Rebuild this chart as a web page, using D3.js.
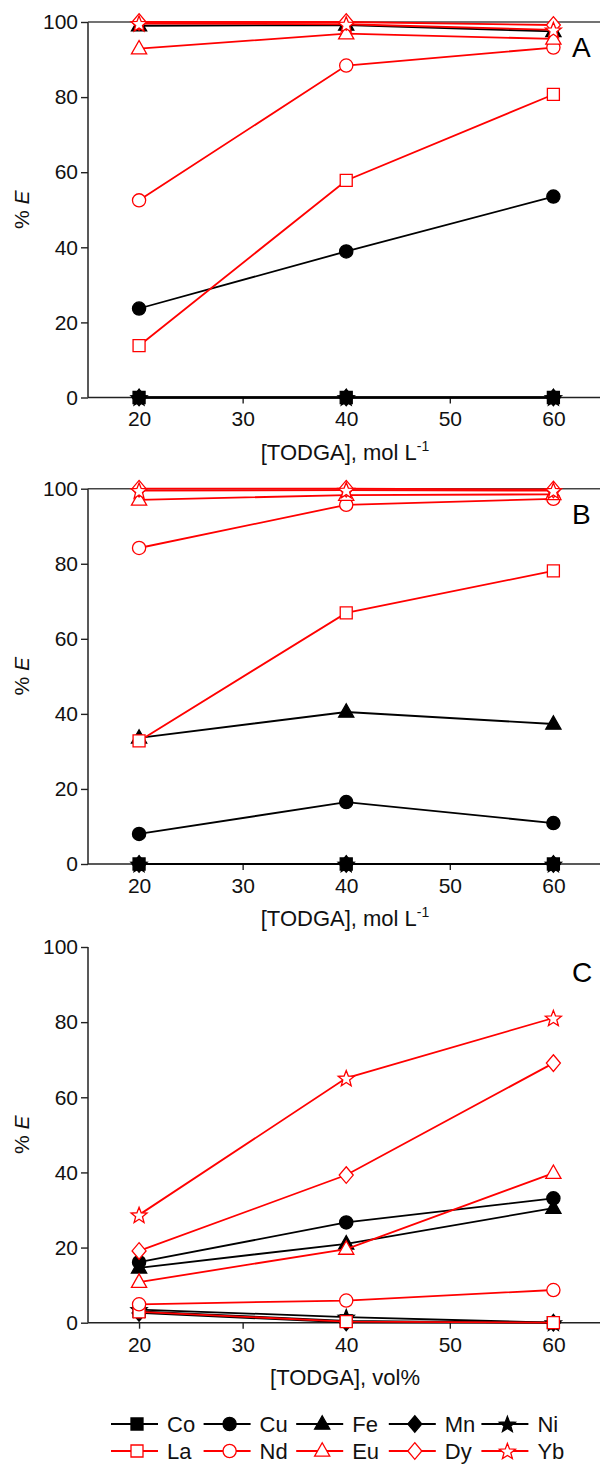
<!DOCTYPE html>
<html><head><meta charset="utf-8">
<script src="https://cdn.jsdelivr.net/npm/d3@7"></script>
<style>
html,body{margin:0;padding:0;background:#fff;}
svg{display:block;font-family:"Liberation Sans",Arial,sans-serif;}
</style></head>
<body><svg id="c" width="600" height="1464"></svg>
<script>
// ---- data ----
const xValues = [20, 40, 60];
const xTicks = [20, 30, 40, 50, 60];
const yTicks = [0, 20, 40, 60, 80, 100];
const seriesNames = ["Co", "Cu", "Fe", "Mn", "Ni", "La", "Nd", "Eu", "Dy", "Yb"];
const seriesShapes = ["square", "circle", "triangle", "diamond", "star", "square", "circle", "triangle", "diamond", "star"];
const seriesColors = ["#000", "#000", "#000", "#000", "#000", "#ff0000", "#ff0000", "#ff0000", "#ff0000", "#ff0000"];
const seriesFilled = [true, true, true, true, true, false, false, false, false, false];
const panelLetters = ["A", "B", "C"];
const xTitles = ["[TODGA], mol L", "[TODGA], mol L", "[TODGA], vol%"];
const xTitleSup = ["-1", "-1", ""];
// values per panel, rows in seriesNames order
const valuesA = [
  [0, 0, 0],          // Co
  [23.7, 38.9, 53.5], // Cu
  [99.0, 99.2, 97.5], // Fe
  [0, 0, 0],          // Mn
  [0, 0, 0],          // Ni
  [13.8, 57.8, 80.7], // La
  [52.5, 88.4, 93.2], // Nd
  [92.9, 96.9, 95.5], // Eu
  [100, 100, 99.2],   // Dy
  [99.6, 99.4, 97.9]  // Yb
];
const valuesB = [
  [0, 0, 0],
  [8.0, 16.5, 10.9],
  [33.6, 40.5, 37.3],
  [0, 0, 0],
  [0, 0, 0],
  [32.8, 66.9, 78.1],
  [84.2, 95.7, 97.3],
  [97.0, 98.3, 98.5],
  [100, 100, 99.8],
  [99.5, 99.6, 99.5]
];
const valuesC = [
  [3.0, 0.5, 0],
  [16.1, 26.7, 33.1],
  [14.6, 21.0, 30.5],
  [2.6, 0.1, 0],
  [3.5, 1.5, 0],
  [2.9, 0.3, 0],
  [4.9, 5.9, 8.7],
  [10.8, 19.6, 39.8],
  [19.1, 39.3, 69.1],
  [28.7, 65.1, 81.1]
];
const panelValues = [valuesA, valuesB, valuesC];

// ---- layout ----
const svg = d3.select("#c");
const left = 88, right = 600;
const panelY = [{top: 22, bottom: 397.5}, {top: 488.7, bottom: 864}, {top: 947, bottom: 1322.7}];
const topLine = [true, true, false];
const x = d3.scaleLinear().domain([15.07, 64.5]).range([left, right]);

function markerPath(shape) {
  switch (shape) {
    case "square": return "M-6,-6H6V6H-6Z";
    case "circle": return "M6.6,0A6.6,6.6,0,1,1,-6.6,0A6.6,6.6,0,1,1,6.6,0Z";
    case "triangle": return "M0,-8.2L7.6,5.2L-7.6,5.2Z";
    case "diamond": return "M0,-8.3L7,0L0,8.3L-7,0Z";
    case "star": {
      let p = [];
      for (let i = 0; i < 10; i++) {
        const r = i % 2 === 0 ? 8.4 : 3.6;
        const a = -Math.PI / 2 + i * Math.PI / 5;
        p.push([r * Math.cos(a), r * Math.sin(a) + 0.8]);
      }
      return "M" + p.map(d => d[0].toFixed(2) + "," + d[1].toFixed(2)).join("L") + "Z";
    }
  }
}

panelY.forEach((pp, pi) => {
  const y = d3.scaleLinear().domain([0, 100]).range([pp.bottom, pp.top]);
  const g = svg.append("g");

  // axes
  const yAxis = d3.axisLeft(y).tickValues(yTicks).tickSize(7).tickPadding(3).tickFormat(d3.format("d"));
  const gy = g.append("g").attr("transform", `translate(${left},0)`).call(yAxis);
  const xAxis = d3.axisBottom(x).tickValues(xTicks).tickSize(6).tickPadding(8).tickFormat(d3.format("d"));
  const gx = g.append("g").attr("transform", `translate(0,${pp.bottom})`).call(xAxis);
  [gx, gy].forEach(ax => {
    ax.select(".domain").remove();
    ax.selectAll("line").attr("stroke", "#222").attr("stroke-width", 1.4);
    ax.selectAll("text").attr("font-size", 21).attr("fill", "#111")
      .attr("font-family", '"Liberation Sans", Arial, sans-serif');
  });
  g.append("line").attr("x1", left).attr("x2", left).attr("y1", pp.top).attr("y2", pp.bottom)
    .attr("stroke", "#222").attr("stroke-width", 1.5);
  g.append("line").attr("x1", left).attr("x2", right).attr("y1", pp.bottom).attr("y2", pp.bottom)
    .attr("stroke", "#222").attr("stroke-width", 1.5);
  if (topLine[pi]) {
    g.append("line").attr("x1", left).attr("x2", right).attr("y1", pp.top).attr("y2", pp.top)
      .attr("stroke", "#444").attr("stroke-width", 1.5);
  }

  // titles
  const xt = g.append("text").attr("x", 345).attr("y", pp.bottom + 62)
    .attr("text-anchor", "middle").attr("font-size", 22).attr("fill", "#111");
  xt.append("tspan").text(xTitles[pi]);
  if (xTitleSup[pi]) xt.append("tspan").attr("dy", -9).attr("font-size", 14).text(xTitleSup[pi]);

  const yt = g.append("text").attr("transform", `translate(29,${(pp.top + pp.bottom) / 2}) rotate(-90)`)
    .attr("text-anchor", "middle").attr("font-size", 21).attr("fill", "#111");
  yt.append("tspan").text("% ");
  yt.append("tspan").attr("font-style", "italic").text("E");

  g.append("text").attr("x", 572).attr("y", pp.top + 35).attr("font-size", 28).attr("fill", "#000")
    .text(panelLetters[pi]);

  // series
  const vals = panelValues[pi];
  const line = d3.line().x((d, i) => x(xValues[i])).y(d => y(d));
  vals.forEach((s, si) => {
    const col = seriesColors[si];
    const sg = g.append("g");
    sg.append("path").attr("d", line(s)).attr("fill", "none").attr("stroke", col).attr("stroke-width", 1.8);
    sg.selectAll("path.m").data(s).join("path").attr("class", "m")
      .attr("d", markerPath(seriesShapes[si]))
      .attr("transform", (d, i) => `translate(${x(xValues[i])},${y(d)})`)
      .attr("fill", seriesFilled[si] ? col : "#fff")
      .attr("stroke", col).attr("stroke-width", 1.3);
  });
});

// legend
const legX0 = 111, legStep = 92.6, legRowY = [1424, 1451];
seriesNames.forEach((name, si) => {
  const row = si < 5 ? 0 : 1, col = si % 5;
  const lx = legX0 + col * legStep, ly = legRowY[row];
  const c = seriesColors[si];
  const lg = svg.append("g");
  lg.append("line").attr("x1", lx).attr("x2", lx + 47).attr("y1", ly).attr("y2", ly)
    .attr("stroke", c).attr("stroke-width", 1.8);
  lg.append("path").attr("d", markerPath(seriesShapes[si])).attr("transform", `translate(${lx + 26},${ly})`)
    .attr("fill", seriesFilled[si] ? c : "#fff").attr("stroke", c).attr("stroke-width", 1.3);
  lg.append("text").attr("x", lx + 56).attr("y", ly + 7.5).attr("font-size", 22).attr("fill", "#111").text(name);
});
</script></body></html>
